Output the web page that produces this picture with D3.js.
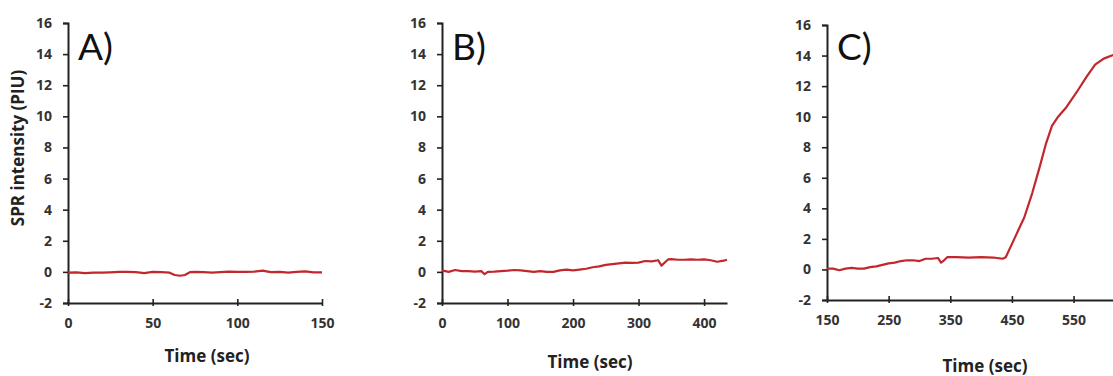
<!DOCTYPE html>
<html>
<head>
<meta charset="utf-8">
<script src="https://cdn.jsdelivr.net/npm/d3@7"></script>
<style>
  body { margin: 0; background: #fff; }
  .tickText { font-family: "Open Sans", sans-serif; font-weight: 700; font-size: 14px; fill: #333; }
  .axisTitle { font-family: "Open Sans", sans-serif; font-weight: 700; font-size: 17px; fill: #222; }
  .panelLabel { font-family: Lato, sans-serif; font-size: 37px; fill: #111; }
</style>
</head>
<body>
<div id="chart"></div>
<script>
// panel A data (time in sec, SPR in PIU)
const timeA = [0, 5, 10, 15, 20, 25, 30, 35, 40, 45, 50, 55, 60, 63, 66, 69, 72, 75, 80, 85, 90, 95, 100, 105, 110, 115, 118, 120, 125, 130, 135, 140, 145, 150]
const sprA = [-0.05, -0.03, -0.08, -0.05, -0.05, -0.03, 0, 0, -0.02, -0.08, 0, -0.02, -0.05, -0.2, -0.25, -0.2, -0.02, 0, -0.02, -0.05, -0.02, 0.02, 0, 0, 0.02, 0.08, 0.02, -0.02, 0, -0.05, 0, 0.03, -0.03, -0.03]

// panel B data
const timeB = [0, 5, 10, 20, 30, 40, 50, 60, 65, 70, 80, 90, 100, 110, 120, 130, 140, 150, 160, 170, 180, 190, 200, 210, 220, 230, 240, 250, 260, 270, 280, 290, 300, 310, 320, 330, 335, 340, 345, 350, 360, 370, 380, 390, 400, 410, 420, 430, 435]
const sprB = [0.1, 0.05, 0, 0.12, 0.05, 0.05, 0.02, 0.05, -0.15, 0, 0.02, 0.05, 0.08, 0.12, 0.1, 0.05, 0, 0.05, 0, 0, 0.1, 0.15, 0.1, 0.15, 0.2, 0.3, 0.35, 0.45, 0.5, 0.55, 0.6, 0.58, 0.6, 0.7, 0.68, 0.75, 0.4, 0.6, 0.8, 0.82, 0.78, 0.78, 0.8, 0.78, 0.8, 0.75, 0.65, 0.72, 0.78]

// panel C data
const timeC = [150, 160, 170, 180, 190, 200, 210, 220, 230, 240, 250, 260, 270, 280, 290, 300, 310, 320, 330, 335, 340, 345, 360, 380, 400, 420, 435, 440, 455, 470, 483, 495, 505, 515, 525, 539, 555, 571, 585, 599, 612, 620]
const sprC = [0.05, 0.05, -0.05, 0.05, 0.1, 0.05, 0.05, 0.15, 0.2, 0.3, 0.4, 0.45, 0.55, 0.6, 0.6, 0.55, 0.7, 0.7, 0.75, 0.45, 0.6, 0.8, 0.8, 0.78, 0.8, 0.78, 0.7, 0.8, 2.1, 3.4, 5.0, 6.7, 8.2, 9.4, 10.0, 10.65, 11.6, 12.6, 13.4, 13.8, 14.0, 14.1]

// tick labels
const yTicks = [-2, 0, 2, 4, 6, 8, 10, 12, 14, 16]
const xTicksA = [0, 50, 100, 150]
const xTicksB = [0, 100, 200, 300, 400]
const xTicksC = [150, 250, 350, 450, 550]

const svgWidth = 1113
const svgHeight = 376

const svg = d3.select("#chart")
  .append("svg")
  .attr("width", svgWidth)
  .attr("height", svgHeight)

// clip so panel C runs off the right edge like the original
svg.append("clipPath").attr("id", "page")
  .append("rect").attr("width", svgWidth).attr("height", svgHeight)

const panels = [
  { label: "A)", times: timeA, values: sprA, xTicks: xTicksA, xDomain: [0, 150],
    left: 68, right: 322, top: 23, bottom: 303, titleX: 207, titleY: 362 },
  { label: "B)", times: timeB, values: sprB, xTicks: xTicksB, xDomain: [0, 435],
    left: 442, right: 727, top: 23, bottom: 303, titleX: 590, titleY: 368 },
  { label: "C)", times: timeC, values: sprC, xTicks: xTicksC, xDomain: [150, 614],
    left: 827, right: 1113, top: 25, bottom: 300, titleX: 985, titleY: 372 }
]

function drawPanel(p) {
  const g = svg.append("g").attr("clip-path", "url(#page)")

  const xScale = d3.scaleLinear().domain(p.xDomain).range([p.left, p.right])
  const yScale = d3.scaleLinear().domain([-2, 16]).range([p.bottom, p.top])

  // y axis, plain hyphen for negatives like the original
  const yAxis = g.append("g")
    .attr("transform", `translate(${p.left},0)`)
    .call(d3.axisLeft(yScale).tickValues(yTicks).tickSize(5).tickPadding(11).tickFormat(d => String(d)))
  yAxis.select(".domain").attr("stroke", "#222").attr("stroke-width", 2)
  yAxis.selectAll(".tick line").attr("stroke", "#222").attr("stroke-width", 1.6)
  yAxis.selectAll(".tick text").attr("class", "tickText").attr("fill", null)

  // x axis, ticks cross the line
  const xAxis = g.append("g")
    .attr("transform", `translate(0,${p.bottom})`)
    .call(d3.axisBottom(xScale).tickValues(p.xTicks).tickSize(3).tickPadding(12).tickSizeOuter(0))
  xAxis.select(".domain").attr("stroke", "#222").attr("stroke-width", 2)
  xAxis.selectAll(".tick line").attr("y1", -4).attr("y2", 3).attr("stroke", "#222").attr("stroke-width", 1.6)
  xAxis.selectAll(".tick text").attr("class", "tickText").attr("fill", null)

  // the trace
  const line = d3.line()
    .x((d, i) => xScale(p.times[i]))
    .y(d => yScale(d))
  g.append("path")
    .datum(p.values)
    .attr("d", line)
    .attr("fill", "none")
    .attr("stroke", "#c1272d")
    .attr("stroke-width", 2.2)
    .attr("stroke-linejoin", "round")

  // panel letter
  g.append("text")
    .attr("class", "panelLabel")
    .attr("x", p.left + 10)
    .attr("y", 60)
    .text(p.label)

  // axis title
  g.append("text")
    .attr("class", "axisTitle")
    .attr("x", p.titleX)
    .attr("y", p.titleY)
    .style("text-anchor", "middle")
    .text("Time (sec)")
}

panels.forEach(drawPanel)

// y axis title, only on the first panel
svg.append("text")
  .attr("class", "axisTitle")
  .attr("transform", "rotate(-90)")
  .attr("x", -148)
  .attr("y", 24)
  .style("text-anchor", "middle")
  .text("SPR intensity (PIU)")
</script>
</body>
</html>
